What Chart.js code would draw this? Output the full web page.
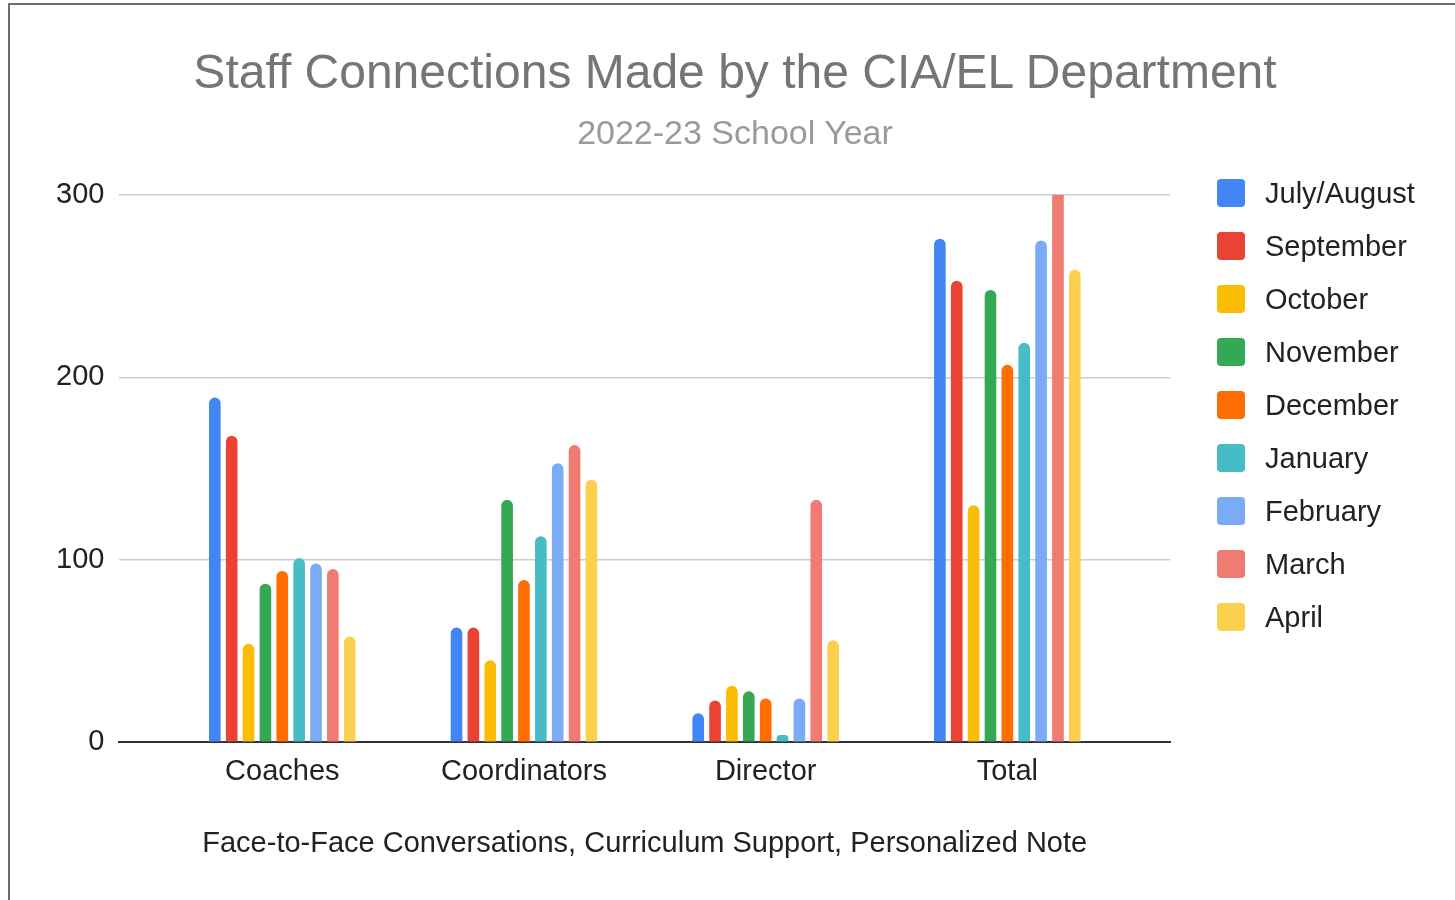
<!DOCTYPE html>
<html>
<head>
<meta charset="utf-8">
<script src="https://cdn.jsdelivr.net/npm/chart.js@4.4.1/dist/chart.umd.min.js"></script>
<style>
  html, body { margin: 0; padding: 0; background: #fff; overflow: hidden; }
  body { width: 1455px; height: 900px; position: relative; font-family: "Liberation Sans", Arial, sans-serif; }
  .frame { position: absolute; left: 8px; top: 3px; width: 1500px; height: 950px; border: 2px solid #6e6e6e; box-sizing: border-box; }
  #myChart { position: absolute; left: 0; top: 0; }
  .chart-title { position: absolute; left: 0; width: 1470px; text-align: center; white-space: nowrap; }
  .chart-title.main { top: 43px; font-size: 48px; line-height: 58px; color: #757575; }
  .chart-title.sub { top: 112px; font-size: 34px; line-height: 40px; color: #9a9a9a; }
  .legend { position: absolute; left: 1217px; top: 179px; }
  .legend-item { display: flex; align-items: center; height: 28px; margin-bottom: 25px; font-size: 29px; color: #222; white-space: nowrap; }
  .legend-color { width: 28px; height: 28px; border-radius: 4px; margin-right: 20px; flex: none; }
</style>
</head>
<body>
<div class="frame"></div>
<canvas id="myChart" width="1455" height="900"></canvas>
<div class="chart-title main">Staff Connections Made by the CIA/EL Department</div>
<div class="chart-title sub">2022-23 School Year</div>
<div id="legend" class="legend"></div>
<script>
const categories = ['Coaches', 'Coordinators', 'Director', 'Total'];
const months = ['July/August', 'September', 'October', 'November', 'December', 'January', 'February', 'March', 'April'];
const colorPalette = ['#4285f4', '#ea4335', '#fbbc04', '#34a853', '#ff6d01', '#46bdc6', '#7baaf7', '#f07b72', '#fcd04f'];

// one row per month: Coaches, Coordinators, Director, Total
const julyAugust = [189, 63, 16, 276];
const september = [168, 63, 23, 253];
const october = [54, 45, 31, 130];
const november = [87, 133, 28, 248];
const december = [94, 89, 24, 207];
const january = [101, 113, 4, 219];
const february = [98, 153, 24, 275];
const march = [95, 163, 133, 391]; // total runs off the top of the axis
const april = [58, 144, 56, 259];

const yTicks = [0, 100, 200, 300];
const seriesValues = [julyAugust, september, october, november, december, january, february, march, april];

const FONT = '"Liberation Sans", Arial, sans-serif';

// categories sit on a linear x axis so the groups keep the side margins of the original
const datasets = months.map((m, i) => ({
  label: m,
  data: seriesValues[i].map((v, idx) => ({ x: idx, y: v })),
  backgroundColor: colorPalette[i],
  borderWidth: 0,
  borderRadius: { topLeft: 6, topRight: 6, bottomLeft: 0, bottomRight: 0 },
  borderSkipped: false,
  categoryPercentage: 0.628,
  barPercentage: 0.69,
}));

const ctx = document.getElementById('myChart').getContext('2d');
new Chart(ctx, {
  type: 'bar',
  data: { datasets },
  options: {
    responsive: false,
    animation: false,
    layout: { padding: { left: 41, right: 285, top: 195, bottom: 39 } },
    plugins: {
      legend: { display: false },
      tooltip: { enabled: false },
    },
    scales: {
      x: {
        type: 'linear',
        offset: false,
        min: -0.674,
        max: 3.673,
        afterBuildTicks: (axis) => { axis.ticks = categories.map((_, i) => ({ value: i })); },
        grid: { display: false, drawTicks: false, offset: false },
        border: { display: true, color: '#333', width: 2 },
        ticks: {
          color: '#222',
          font: { family: FONT, size: 29 },
          padding: 12,
          maxRotation: 0,
          autoSkip: false,
          callback: (value) => categories[value] ?? '',
        },
        title: {
          display: true,
          text: 'Face-to-Face Conversations, Curriculum Support, Personalized Note',
          color: '#222',
          font: { family: FONT, size: 29 },
          padding: { top: 25, bottom: 0 },
        },
      },
      y: {
        min: 0,
        max: 300,
        afterBuildTicks: (axis) => { axis.ticks = yTicks.map(v => ({ value: v })); },
        grid: {
          drawTicks: false,
          color: (c) => (c.tick && c.tick.value === 0 ? '#333' : '#cccccc'),
          lineWidth: (c) => (c.tick && c.tick.value === 0 ? 2 : 1.5),
        },
        border: { display: false },
        ticks: { color: '#222', font: { family: FONT, size: 29 }, padding: 15 },
      },
    },
  },
});

const renderLegend = () => {
  const box = document.getElementById('legend');
  months.forEach((m, i) => {
    const item = document.createElement('div');
    item.className = 'legend-item';
    item.innerHTML = `<span class="legend-color" style="background-color: ${colorPalette[i]};"></span>${m}`;
    box.appendChild(item);
  });
};
renderLegend();
</script>
</body>
</html>
